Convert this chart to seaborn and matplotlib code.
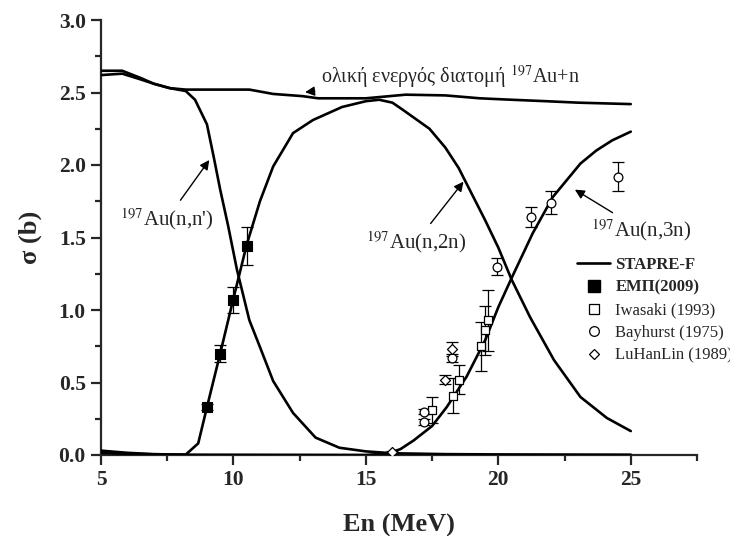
import numpy as np
import pandas as pd
import matplotlib
matplotlib.use("Agg")
import matplotlib.pyplot as plt
import seaborn as sns
from matplotlib.lines import Line2D

# ---------------- data ----------------
E_total = [5.0, 5.8, 6.5, 7.0, 7.6, 8.2, 10.6, 11.5, 12.6, 13.2, 14.0, 15.0, 16.5, 18.0, 19.3, 20.5, 21.8, 23.0, 25.0]
s_total = [2.65, 2.65, 2.60, 2.56, 2.53, 2.52, 2.52, 2.49, 2.475, 2.46, 2.46, 2.46, 2.485, 2.48, 2.46, 2.45, 2.44, 2.43, 2.42]

E_nn = [5.0, 5.8, 6.5, 7.0, 7.6, 8.2, 8.55, 9.0, 9.25, 9.5, 9.8, 10.13, 10.6, 11.0, 11.5, 12.25, 13.1, 14.0, 15.0, 16.0, 18.0, 20.0, 25.0]
s_nn = [2.62, 2.63, 2.59, 2.56, 2.53, 2.51, 2.45, 2.28, 2.06, 1.83, 1.58, 1.28, 0.93, 0.745, 0.51, 0.29, 0.12, 0.05, 0.025, 0.012, 0.006, 0.004, 0.002]

E_n2n = [5.0, 6.0, 7.0, 8.2, 8.67, 9.0, 9.5, 10.0, 10.5, 11.0, 11.5, 12.25, 13.0, 14.1, 15.0, 15.5, 16.0, 16.4, 17.4, 18.0, 18.5, 19.0, 19.5, 20.0, 20.5, 21.2, 22.1, 23.1, 24.1, 25.0]
s_n2n = [0.015, 0.008, 0.004, 0.003, 0.08, 0.33, 0.70, 1.08, 1.45, 1.75, 1.99, 2.22, 2.31, 2.40, 2.44, 2.45, 2.43, 2.38, 2.25, 2.12, 1.98, 1.80, 1.62, 1.43, 1.21, 0.95, 0.655, 0.40, 0.255, 0.165]

E_n3n = [5.0, 6.0, 7.0, 8.0, 15.0, 15.8, 16.3, 16.8, 17.5, 18.05, 18.8, 19.5, 20.0, 20.5, 21.3, 22.06, 23.1, 23.7, 24.3, 25.0]
s_n3n = [0.03, 0.015, 0.006, 0.002, 0.0, 0.01, 0.04, 0.10, 0.20, 0.33, 0.54, 0.79, 1.02, 1.22, 1.53, 1.78, 2.01, 2.10, 2.17, 2.23]

emp_E = [9.0, 9.5, 10.0, 10.5]
emp_s = [0.33, 0.70, 1.07, 1.44]
emp_err = [0.02, 0.06, 0.09, 0.13]

iwa_E = [17.5, 18.3, 18.5, 19.35, 19.5, 19.6]
iwa_s = [0.31, 0.41, 0.52, 0.75, 0.86, 0.93]
iwa_err = [0.09, 0.12, 0.10, 0.17, 0.17, 0.21]

bay_E = [17.2, 17.2, 18.25, 19.95, 21.25, 22.0, 24.5]
bay_s = [0.23, 0.30, 0.67, 1.30, 1.64, 1.74, 1.92]
bay_err = [0.02, 0.02, 0.03, 0.06, 0.07, 0.08, 0.10]

lu_E = [16.0, 18.0, 18.25]
lu_s = [0.02, 0.52, 0.73]
lu_err = [0.01, 0.03, 0.05]

legend_labels = ["STAPRE-F", "ΕΜΠ(2009)", "Iwasaki (1993)", "Bayhurst (1975)", "LuHanLin (1989)"]

# ---------------- style ----------------
sns.set_theme(style="ticks")
plt.rcParams["font.family"] = ["Liberation Serif", "DejaVu Serif"]
plt.rcParams["mathtext.fontset"] = "stix"

fig = plt.figure(figsize=(7.30, 5.36), dpi=100)
ax = fig.add_axes([101/730, 81/536, 596/730, 435/536])

lw = 1.9
for E, s in [(E_total, s_total), (E_nn, s_nn), (E_n2n, s_n2n), (E_n3n, s_n3n)]:
    df = pd.DataFrame({"E": E, "s": s})
    sns.lineplot(data=df, x="E", y="s", ax=ax, color="black", lw=lw, sort=False,
                 estimator=None, zorder=3)

# error bars
ekw = dict(fmt="none", ecolor="black", elinewidth=0.9, capsize=4.5, capthick=0.9, zorder=4)
ax.errorbar(emp_E, emp_s, yerr=emp_err, **ekw)
ax.errorbar(iwa_E, iwa_s, yerr=iwa_err, **ekw)
ax.errorbar(bay_E, bay_s, yerr=bay_err, **ekw)
ax.errorbar(lu_E, lu_s, yerr=lu_err, **ekw)

# markers
sns.scatterplot(x=emp_E, y=emp_s, ax=ax, marker="s", s=60, color="black",
                edgecolor="black", linewidth=0.8, zorder=5)
sns.scatterplot(x=iwa_E, y=iwa_s, ax=ax, marker="s", s=38, facecolor="white",
                edgecolor="black", linewidth=0.9, zorder=5)
sns.scatterplot(x=bay_E, y=bay_s, ax=ax, marker="o", s=40, facecolor="white",
                edgecolor="black", linewidth=0.9, zorder=5)
sns.scatterplot(x=lu_E, y=lu_s, ax=ax, marker="D", s=26, facecolor="white",
                edgecolor="black", linewidth=0.9, zorder=5)

# axes
ax.set_xlim(5, 27.5)
ax.set_ylim(0, 3.0)
ax.set_xticks([5, 10, 15, 20, 25])
ax.set_xticks([7.5, 12.5, 17.5, 22.5, 27.5], minor=True)
ax.set_yticks(np.arange(0, 3.01, 0.5))
ax.set_yticks(np.arange(0.25, 3.0, 0.5), minor=True)
ax.set_yticklabels([f"{v:.1f}" for v in np.arange(0, 3.01, 0.5)])
for sp in ["top", "right"]:
    ax.spines[sp].set_visible(False)
for sp in ["left", "bottom"]:
    ax.spines[sp].set_linewidth(1.6)
ax.tick_params(which="major", direction="out", length=7, width=1.6, labelsize=15.5, pad=4)
ax.tick_params(which="minor", direction="out", length=4.5, width=1.6)
for lab in ax.get_xticklabels() + ax.get_yticklabels():
    lab.set_fontweight("bold")
ax.set_xlabel("En (MeV)", fontsize=19, fontweight="bold", labelpad=17)
ax.set_ylabel("σ (b)", fontsize=19, fontweight="bold", labelpad=12)

# annotations
akw = dict(arrowstyle="-|>", color="black", lw=1.0, mutation_scale=14)
ax.annotate("ολική ενεργός διατομή $^{197}$Au+n", xy=(12.6, 2.50), xytext=(13.3, 2.61),
            fontsize=14.5, ha="left", va="center", arrowprops=akw)
ax.annotate("$^{197}$Au(n,n')", xy=(9.15, 2.05), xytext=(7.5, 1.63),
            fontsize=15, ha="center", va="center", arrowprops=akw)
ax.annotate("$^{197}$Au(n,2n)", xy=(18.75, 1.9), xytext=(16.9, 1.47),
            fontsize=15, ha="center", va="center", arrowprops=akw)
ax.annotate("$^{197}$Au(n,3n)", xy=(22.8, 1.84), xytext=(25.4, 1.55),
            fontsize=15, ha="center", va="center", arrowprops=akw)

# legend
handles = [
    Line2D([], [], color="black", lw=lw),
    Line2D([], [], color="black", marker="s", ls="none", markersize=8),
    Line2D([], [], color="black", marker="s", ls="none", markersize=6.5,
           markerfacecolor="white", markeredgewidth=0.9),
    Line2D([], [], color="black", marker="o", ls="none", markersize=7,
           markerfacecolor="white", markeredgewidth=0.9),
    Line2D([], [], color="black", marker="D", ls="none", markersize=5.5,
           markerfacecolor="white", markeredgewidth=0.9),
]
leg = ax.legend(handles, legend_labels, loc="upper left",
                bbox_to_anchor=((577 - 101) / 596, (455 - 257) / 435),
                frameon=False, fontsize=12, handlelength=2.0, handletextpad=0.3,
                labelspacing=0.4, borderaxespad=0, borderpad=0)
for t in leg.get_texts()[:2]:
    t.set_fontweight("bold")

fig.savefig("out.png", dpi=100)
